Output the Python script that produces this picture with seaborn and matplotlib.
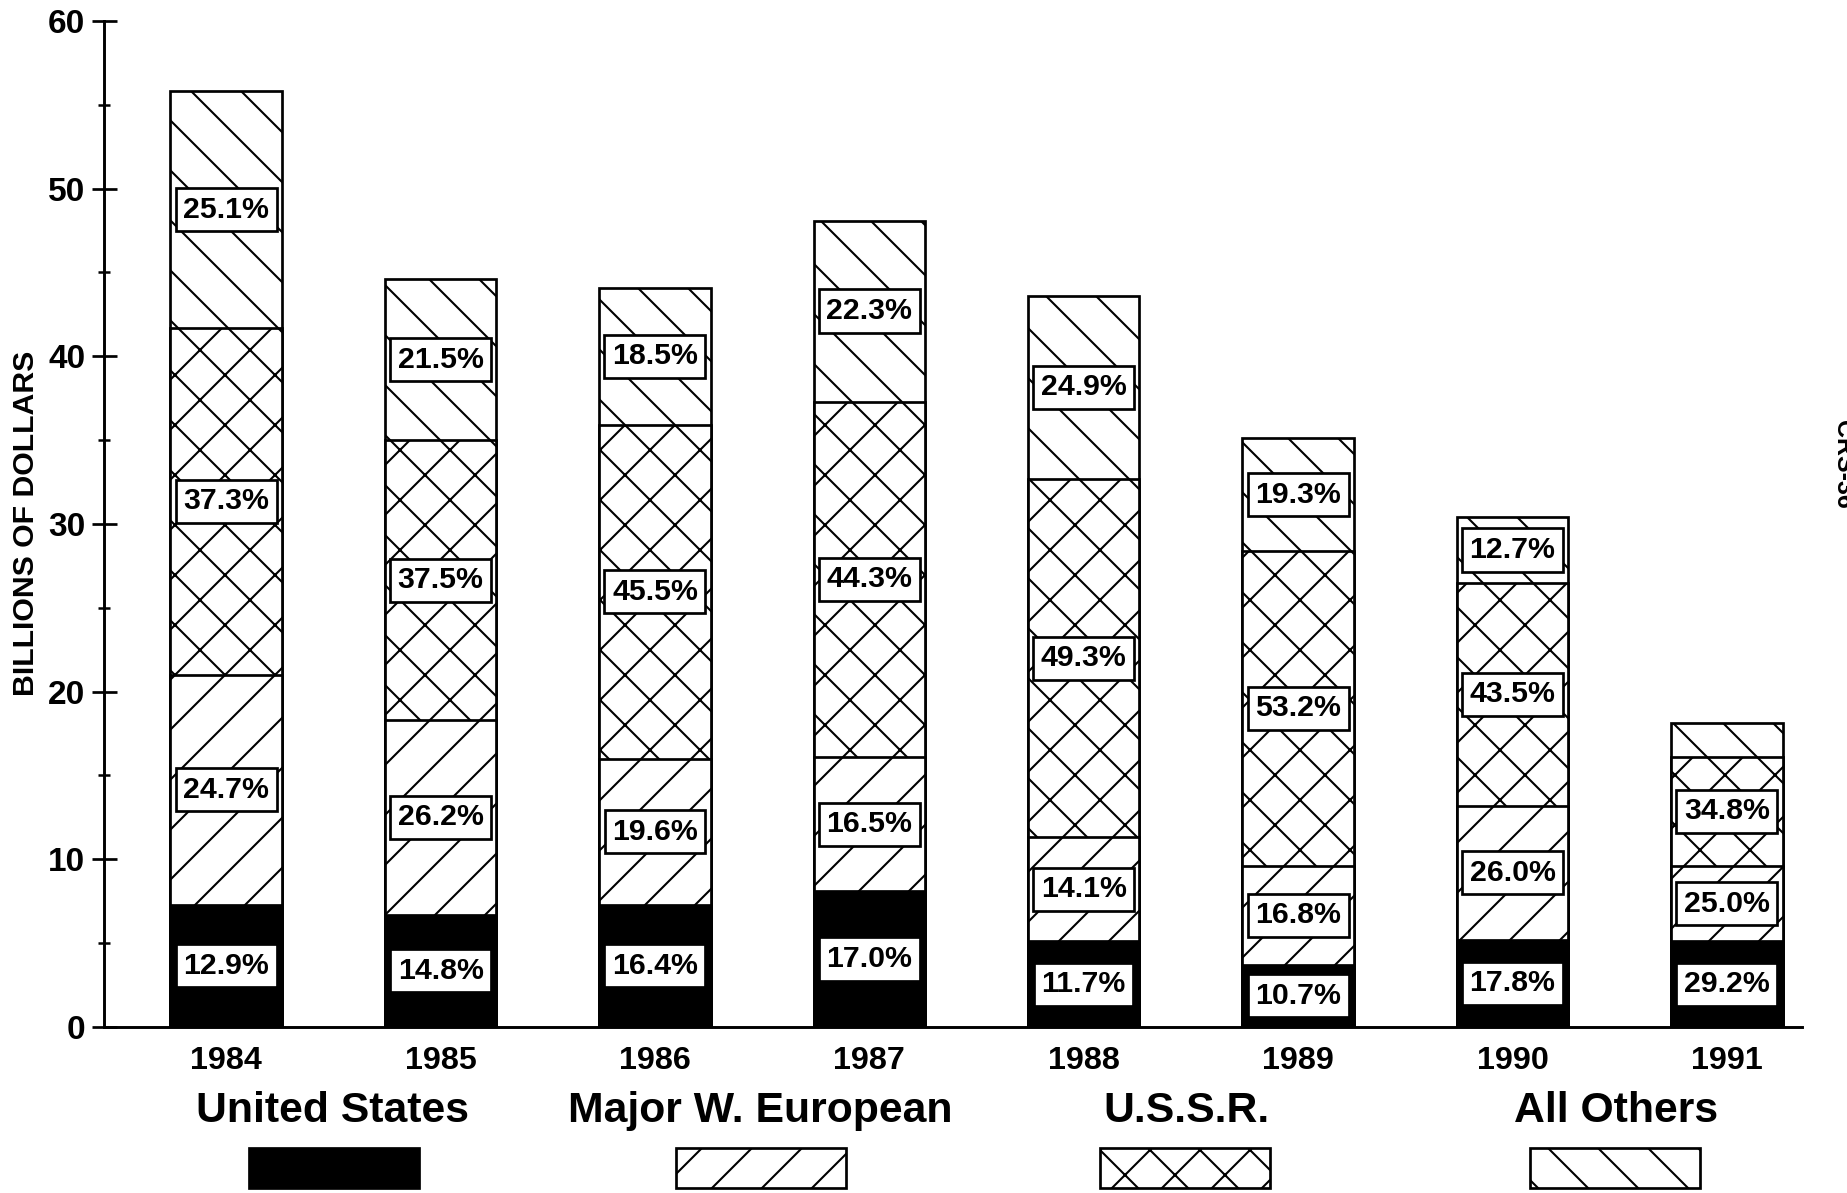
import matplotlib
matplotlib.use("Agg")
import matplotlib.pyplot as plt
from matplotlib import font_manager
from matplotlib.patches import Rectangle
from matplotlib.ticker import MultipleLocator
import pandas as pd
import seaborn as sns

# billions of dollars per supplier group
years = ["1984", "1985", "1986", "1987", "1988", "1989", "1990", "1991"]
united_states = [7.3, 6.7, 7.3, 8.1, 5.1, 3.7, 5.2, 5.1]
west_european = [13.7, 11.6, 8.7, 8.0, 6.2, 5.9, 8.0, 4.5]
ussr = [20.7, 16.7, 19.9, 21.2, 21.4, 18.8, 13.3, 6.5]
all_others = [14.1, 9.6, 8.2, 10.8, 10.9, 6.7, 3.9, 2.0]

# share labels printed in each segment
us_pct = ["12.9%", "14.8%", "16.4%", "17.0%", "11.7%", "10.7%", "17.8%", "29.2%"]
we_pct = ["24.7%", "26.2%", "19.6%", "16.5%", "14.1%", "16.8%", "26.0%", "25.0%"]
ussr_pct = ["37.3%", "37.5%", "45.5%", "44.3%", "49.3%", "53.2%", "43.5%", "34.8%"]
others_pct = ["25.1%", "21.5%", "18.5%", "22.3%", "24.9%", "19.3%", "12.7%", ""]

series_names = ["United States", "Major W. European", "U.S.S.R.", "All Others"]

df = pd.DataFrame({"year": years, "us": united_states, "we": west_european,
                   "ussr": ussr, "others": all_others})
df["c1"] = df["us"]
df["c2"] = df["c1"] + df["we"]
df["c3"] = df["c2"] + df["ussr"]
df["c4"] = df["c3"] + df["others"]

sns.set_style("white")
installed = {f.name for f in font_manager.fontManager.ttflist}
fam = "Liberation Sans Narrow" if "Liberation Sans Narrow" in installed else "Liberation Sans"
plt.rcParams["font.family"] = [fam, "DejaVu Sans"]
plt.rcParams["font.weight"] = "bold"
plt.rcParams["hatch.linewidth"] = 1.0
for key in ["text.color", "axes.labelcolor", "xtick.color", "ytick.color"]:
    plt.rcParams[key] = "black"

fig = plt.figure(figsize=(1847 / 150, 1193 / 150), dpi=150)
ax = fig.add_axes([0.0563, 0.1392, 0.9756 - 0.0563, 0.9824 - 0.1392])

hatches = [None, "/", "x", "\\"]
fills = ["black", "white", "white", "white"]
# draw cumulative bars from the top layer down so each one covers the rest
for col, hatch, fill in zip(["c4", "c3", "c2", "c1"], hatches[::-1], fills[::-1]):
    sns.barplot(data=df, x="year", y=col, color=fill, saturation=1,
                edgecolor="black", linewidth=1.3, hatch=hatch,
                width=0.52, errorbar=None, ax=ax)

box = dict(boxstyle="square,pad=0.25", fc="white", ec="black", lw=1.3)
for i in range(len(years)):
    lows = [0, df["c1"][i], df["c2"][i], df["c3"][i]]
    highs = [df["c1"][i], df["c2"][i], df["c3"][i], df["c4"][i]]
    for lab, lo, hi in zip([us_pct[i], we_pct[i], ussr_pct[i], others_pct[i]], lows, highs):
        if lab:
            ax.text(i, (lo + hi) / 2, lab, ha="center", va="center",
                    fontsize=14.5, fontweight="bold", bbox=box, zorder=5)

ax.set_xlim(-0.57, 7.35)
ax.set_ylim(0, 60)
ax.yaxis.set_major_locator(MultipleLocator(10))
ax.yaxis.set_minor_locator(MultipleLocator(5))
ax.tick_params(axis="y", which="major", direction="inout", length=12, width=1.3,
               labelsize=16, pad=3, left=True)
ax.tick_params(axis="y", which="minor", direction="inout", length=6, width=1.2, left=True)
ax.tick_params(axis="x", length=0, labelsize=15.5, pad=9)
for lbl in ax.get_xticklabels() + ax.get_yticklabels():
    lbl.set_fontweight("bold")
ax.set_xlabel("")
ax.set_ylabel("")
for side in ["top", "right"]:
    ax.spines[side].set_visible(False)
for side in ["left", "bottom"]:
    ax.spines[side].set_linewidth(1.4)
    ax.spines[side].set_color("black")

fig.text(0.014, 0.561, "BILLIONS OF DOLLARS", rotation=90, ha="center", va="center",
         fontsize=14.5, fontweight="bold")
fig.text(0.9915, 0.611, "CRS-36", rotation=-90, ha="left", va="center", fontsize=12)

# legend: labels above hatched swatches
label_x = [333, 760, 1186, 1616]
swatch_x = [249, 676, 1100, 1530]
for name, lx, sx, hatch, fill in zip(series_names, label_x, swatch_x, hatches, fills):
    fig.text(lx / 1847, 0.069, name, ha="center", va="center", fontsize=20.5, fontweight="bold")
    fig.patches.append(Rectangle((sx / 1847, 0.004), 170 / 1847, 0.034, transform=fig.transFigure,
                                 facecolor=fill, edgecolor="black", hatch=hatch, lw=1.3))

fig.savefig("out.png", dpi=150)
